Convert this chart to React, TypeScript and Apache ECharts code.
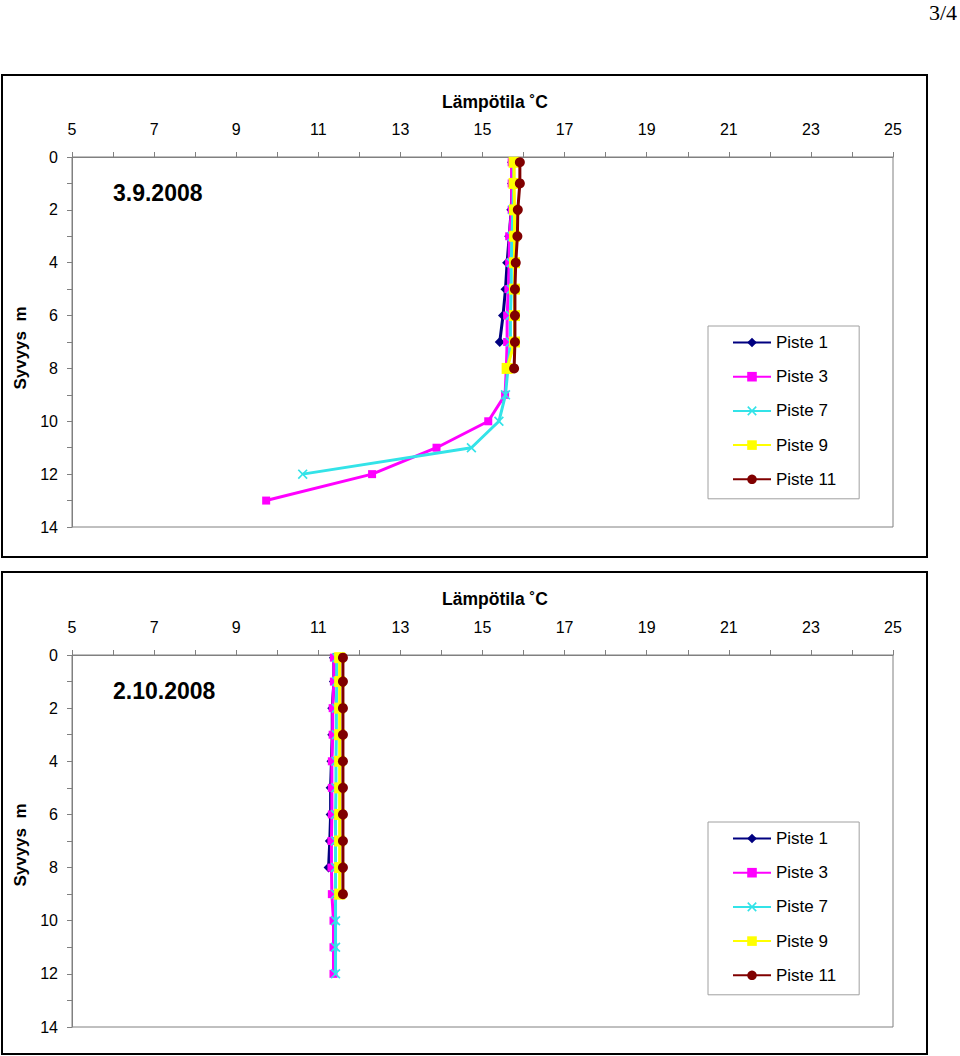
import React, { useEffect, useRef } from "react";
import * as echarts from "echarts";

const xTicks = [5, 7, 9, 11, 13, 15, 17, 19, 21, 23, 25];
const depthTicks = [0, 2, 4, 6, 8, 10, 12, 14];
const seriesNames = ["Piste 1", "Piste 3", "Piste 7", "Piste 9", "Piste 11"];

// 3.9.2008
const depthsTop = [0.2, 1, 2, 3, 4, 5, 6, 7, 8, 9, 10, 11, 12, 13];
const p1Top = [15.72, 15.72, 15.7, 15.65, 15.6, 15.56, 15.5, 15.42];
const p3Top = [15.71, 15.71, 15.71, 15.65, 15.65, 15.63, 15.6, 15.6, 15.58, 15.55, 15.14, 13.88, 12.31, 9.73];
const p7Top = [15.76, 15.76, 15.74, 15.72, 15.7, 15.7, 15.68, 15.68, 15.62, 15.56, 15.4, 14.73, 10.62];
const p9Top = [15.77, 15.77, 15.78, 15.78, 15.78, 15.78, 15.78, 15.78, 15.6];
const p11Top = [15.91, 15.91, 15.86, 15.85, 15.81, 15.79, 15.79, 15.79, 15.77];

// 2.10.2008
const depthsBot = [0.1, 1, 2, 3, 4, 5, 6, 7, 8, 9, 10, 11, 12];
const p1Bot = [11.38, 11.38, 11.34, 11.34, 11.32, 11.3, 11.3, 11.28, 11.25];
const p3Bot = [11.38, 11.38, 11.35, 11.35, 11.33, 11.33, 11.33, 11.32, 11.32, 11.33, 11.37, 11.37, 11.37];
const p7Bot = [11.45, 11.45, 11.44, 11.44, 11.43, 11.43, 11.42, 11.42, 11.42, 11.42, 11.42, 11.42, 11.42];
const p9Bot = [11.52, 11.52, 11.52, 11.52, 11.52, 11.52, 11.52, 11.52, 11.52, 11.52];
const p11Bot = [11.6, 11.6, 11.6, 11.6, 11.6, 11.6, 11.6, 11.6, 11.6, 11.6];

const COLORS = ["#000080", "#FF00FF", "#33E3E8", "#FFFF00", "#800000"];
const SYMBOLS = [
  "diamond",
  "rect",
  "path://M0,1.2L1.2,0L5,3.8L8.8,0L10,1.2L6.2,5L10,8.8L8.8,10L5,6.2L1.2,10L0,8.8L3.8,5Z",
  "rect",
  "circle",
];
const SIZES = [10, 8, 10, 11, 10];

const FONT = "Liberation Sans, Arial, sans-serif";

function pairs(vals: number[], depths: number[]) {
  return vals.map((v, i) => [v, depths[i]]);
}

export default function App() {
  const ref = useRef<HTMLDivElement>(null);
  useEffect(() => {
    if (!ref.current) return;
    const chart = echarts.init(ref.current, undefined, { renderer: "svg" });

    const grids = [
      { left: 72, top: 157, width: 821, height: 370 },
      { left: 72, top: 655, width: 821, height: 372 },
    ];
    const xAxis = grids.map((_, i) => ({
      type: "value",
      gridIndex: i,
      position: "top",
      min: 5,
      max: 25,
      interval: 1,
      axisLine: { show: true, onZero: false, lineStyle: { color: "#808080", width: 1 } },
      axisTick: { show: true, inside: false, length: 5, lineStyle: { color: "#808080" } },
      splitLine: { show: false },
      axisLabel: {
        margin: 20,
        color: "#000",
        fontSize: 16,
        fontFamily: FONT,
        formatter: (v: number) => (xTicks.includes(v) ? String(v) : ""),
      },
    }));
    const yAxis = grids.map((_, i) => ({
      type: "value",
      gridIndex: i,
      inverse: true,
      min: 0,
      max: 14,
      interval: 1,
      axisLine: { show: true, onZero: false, lineStyle: { color: "#808080", width: 1 } },
      axisTick: { show: true, inside: false, length: 5, lineStyle: { color: "#808080" } },
      splitLine: { show: false },
      axisLabel: {
        margin: 14,
        color: "#000",
        fontSize: 16,
        fontFamily: FONT,
        formatter: (v: number) => (depthTicks.includes(v) ? String(v) : ""),
      },
    }));

    const topData = [p1Top, p3Top, p7Top, p9Top, p11Top];
    const botData = [p1Bot, p3Bot, p7Bot, p9Bot, p11Bot];
    const series: any[] = [];
    [topData, botData].forEach((set, g) => {
      const depths = g === 0 ? depthsTop : depthsBot;
      set.forEach((vals, k) => {
        series.push({
          type: "line",
          name: seriesNames[k],
          xAxisIndex: g,
          yAxisIndex: g,
          data: pairs(vals, depths),
          symbol: SYMBOLS[k],
          symbolSize: SIZES[k],
          showAllSymbol: true,
          lineStyle: { color: COLORS[k], width: 3 },
          itemStyle: { color: COLORS[k] },
          z: 2 + k,
        });
      });
    });

    const legends = [326, 822].map((top) => ({
      orient: "vertical",
      left: 708,
      top,
      itemWidth: 38,
      itemHeight: 12,
      itemGap: 17.2,
      padding: [8, 23, 11, 24],
      borderColor: "#A0A0A0",
      borderWidth: 1,
      selectedMode: false,
      data: seriesNames,
      textStyle: { fontSize: 17, fontFamily: FONT, color: "#000", padding: [0, 0, 0, 0] },
    }));

    const graphic: any[] = [
      {
        type: "text",
        x: 957,
        y: 12,
        style: {
          text: "3/4",
          fontFamily: "Liberation Serif, Times New Roman, serif",
          fontSize: 22,
          fill: "#000",
          align: "right",
          verticalAlign: "middle",
        },
      },
    ];
    const boxes = [
      { y: 75, h: 482, date: "3.9.2008", dateY: 193, titleY: 102, axisY: 348 },
      { y: 572, h: 482, date: "2.10.2008", dateY: 691, titleY: 599, axisY: 845 },
    ];
    boxes.forEach((b) => {
      graphic.push({
        type: "rect",
        shape: { x: 2, y: b.y, width: 925, height: b.h },
        style: { fill: "none", stroke: "#000", lineWidth: 2 },
        silent: true,
      });
      graphic.push({
        type: "text",
        x: 495,
        y: b.titleY,
        style: {
          text: "Lämpötila ˚C",
          fontFamily: FONT,
          fontWeight: "bold",
          fontSize: 17.5,
          fill: "#000",
          align: "center",
          verticalAlign: "middle",
        },
      });
      graphic.push({
        type: "text",
        x: 113,
        y: b.dateY,
        style: {
          text: b.date,
          fontFamily: FONT,
          fontWeight: "bold",
          fontSize: 23,
          fill: "#000",
          align: "left",
          verticalAlign: "middle",
        },
      });
      graphic.push({
        type: "text",
        x: 20,
        y: b.axisY,
        rotation: Math.PI / 2,
        style: {
          text: "Syvyys  m",
          fontFamily: FONT,
          fontWeight: "bold",
          fontSize: 17,
          fill: "#000",
          align: "center",
          verticalAlign: "middle",
        },
      });
    });

    chart.setOption({
      animation: false,
      backgroundColor: "#fff",
      grid: grids.map((g) => ({ ...g, show: true, borderColor: "#808080", borderWidth: 1, backgroundColor: "transparent" })),
      xAxis,
      yAxis,
      legend: legends,
      series,
      graphic,
    });
    return () => chart.dispose();
  }, []);
  return (
    <div
      ref={ref}
      style={{ position: "absolute", left: 0, top: 0, width: 960, height: 1056, background: "#fff" }}
    />
  );
}
